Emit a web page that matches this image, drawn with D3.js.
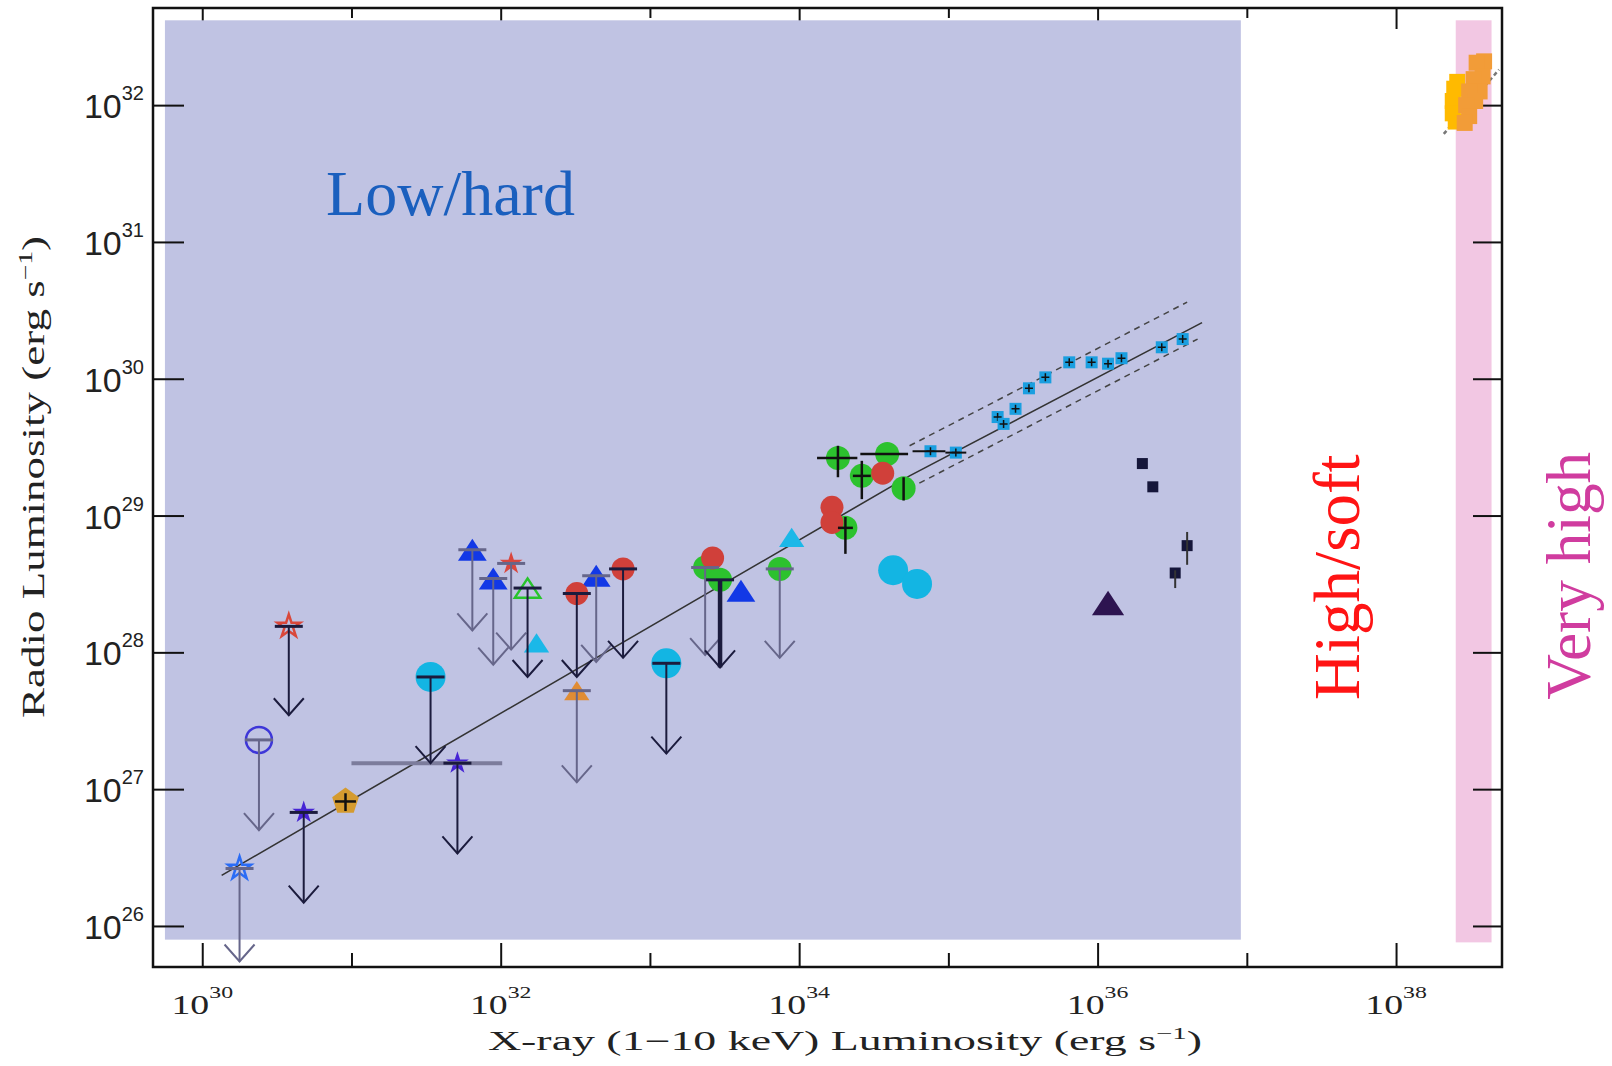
<!DOCTYPE html>
<html lang="en">

<head>
  <meta charset="UTF-8">
  <title>Radio vs X-ray luminosity</title>
  <style>
    body { margin: 0; background: #fff; }
    svg text { font-family: "Liberation Serif", "DejaVu Serif", serif; }
  </style>
</head>

<body>
  <svg id="svg" width="1612" height="1066"></svg>

  <script src="https://d3js.org/d3.v7.min.js"></script>
  <script>
    // every value is log10 of a luminosity in erg/s
    const xDomain = [29.67, 38.71]
    const yDomain = [25.70, 32.71]
    const xMajor = [30, 32, 34, 36, 38]
    const xMinor = [31, 33, 35, 37]
    const yMajor = [26, 27, 28, 29, 30, 31, 32]

    // accretion states: x and y extents
    const lowHard = { x: [29.75, 36.96], y: [25.90, 32.62] }
    const veryHigh = { x: [38.40, 38.64], y: [25.88, 32.62] }

    // correlation lines
    const fitLine = [[30.13, 26.37], [34.74, 29.29], [36.70, 30.41]]
    const fitUpper = [[34.74, 29.51], [36.60, 30.56]]
    const fitLower = [[34.74, 29.20], [36.67, 30.29]]
    const vhLine = [[38.32, 31.79], [38.69, 32.26]]

    // sources (lim = end of upper-limit arrow, xe/ye = error ranges)
    const openStarBlue = [{ x: 30.25, y: 26.42, lim: 25.74 }]
    const openCircleBlue = [{ x: 30.38, y: 27.36, lim: 26.70 }]
    const openStarRed = [{ x: 30.58, y: 28.19, lim: 27.54 }]
    const starPurple = [
      { x: 30.68, y: 26.83, lim: 26.17 },
      { x: 31.71, y: 27.19, lim: 26.53, xe: [31.00, 32.01] }
    ]
    const pentagonGold = [{ x: 30.96, y: 26.91, xe: [30.89, 31.03], ye: [26.84, 26.97] }]
    const circleCyan = [
      { x: 31.53, y: 27.82, lim: 27.19 },
      { x: 33.11, y: 27.92, lim: 27.26 },
      { x: 34.63, y: 28.60 },
      { x: 34.79, y: 28.50 }
    ]
    const triangleBlue = [
      { x: 31.81, y: 28.75, lim: 28.16 },
      { x: 31.95, y: 28.54, lim: 27.91 },
      { x: 32.64, y: 28.56, lim: 27.93 },
      { x: 33.61, y: 28.45 }
    ]
    const starRed = [{ x: 32.07, y: 28.65, lim: 28.02 }]
    const openTriangleGreen = [{ x: 32.18, y: 28.47, lim: 27.82 }]
    const triangleCyan = [{ x: 32.24, y: 28.07 }, { x: 33.95, y: 28.84 }]
    const triangleOrange = [{ x: 32.51, y: 27.72, lim: 27.05 }]
    const circleGreen = [
      { x: 33.37, y: 28.62, lim: 27.98 },
      { x: 33.87, y: 28.61, lim: 27.96 },
      { x: 34.31, y: 28.91, xe: [34.26, 34.36], ye: [28.72, 28.99] },
      { x: 34.26, y: 29.42, xe: [34.12, 34.39], ye: [29.28, 29.51] },
      { x: 34.42, y: 29.29, xe: [34.36, 34.48], ye: [29.12, 29.40] },
      { x: 34.59, y: 29.45, xe: [34.41, 34.73] },
      { x: 34.70, y: 29.20, ye: [29.11, 29.28] }
    ]
    const circleGreenDeep = [{ x: 33.47, y: 28.53, lim: 27.89 }]
    const circleRed = [
      { x: 32.51, y: 28.43, lim: 27.82 },
      { x: 32.82, y: 28.61, lim: 27.96 },
      { x: 33.42, y: 28.69 },
      { x: 34.22, y: 29.06 },
      { x: 34.22, y: 28.95 },
      { x: 34.56, y: 29.31 }
    ]
    const squareBlue = [
      { x: 34.88, y: 29.47, xe: [34.76, 34.98] },
      { x: 35.05, y: 29.46, xe: [34.98, 35.12] },
      { x: 35.33, y: 29.72 },
      { x: 35.37, y: 29.67 },
      { x: 35.45, y: 29.78 },
      { x: 35.54, y: 29.93 },
      { x: 35.65, y: 30.01 },
      { x: 35.81, y: 30.12 },
      { x: 35.96, y: 30.12 },
      { x: 36.07, y: 30.11 },
      { x: 36.16, y: 30.15 },
      { x: 36.43, y: 30.23 },
      { x: 36.57, y: 30.29 }
    ]
    const squareNavy = [
      { x: 36.30, y: 29.38 },
      { x: 36.37, y: 29.21 },
      { x: 36.60, y: 28.78, ye: [28.64, 28.88] },
      { x: 36.52, y: 28.58, ye: [28.47, 28.60] }
    ]
    const triangleDark = [{ x: 36.07, y: 28.36 }]
    const vhYellow = [
      { x: 38.41, y: 32.17 }, { x: 38.39, y: 32.12 }, { x: 38.38, y: 32.03 },
      { x: 38.38, y: 31.94 }, { x: 38.40, y: 31.88 }
    ]
    const vhOrange = [
      { x: 38.59, y: 32.32 }, { x: 38.54, y: 32.31 }, { x: 38.58, y: 32.21 },
      { x: 38.52, y: 32.19 }, { x: 38.56, y: 32.10 }, { x: 38.49, y: 32.10 },
      { x: 38.53, y: 32.03 }, { x: 38.47, y: 32.00 }, { x: 38.49, y: 31.92 },
      { x: 38.46, y: 31.87 }
    ]

    const dark = '#1b1b3d'
    const grey = '#66668a'

    const styles = {
      openStarBlue: { shape: 'star', r: 12, fill: 'none', stroke: '#2a6cf5', sw: 2.5, arrow: grey },
      openCircleBlue: { shape: 'circle', r: 13, fill: 'none', stroke: '#3d36d8', sw: 2.5, arrow: grey },
      openStarRed: { shape: 'star', r: 12, fill: 'none', stroke: '#d9473a', sw: 2.5, arrow: dark },
      starPurple: { shape: 'star', r: 12, fill: '#4624d4', arrow: dark, err: '#7c7c9c', ew: 4 },
      pentagonGold: { shape: 'pentagon', r: 14, fill: '#d59b2f', err: '#111' },
      circleCyan: { shape: 'circle', r: 15, fill: '#13b5e3', arrow: dark },
      triangleBlue: { shape: 'triangle', r: 12.5, fill: '#1238e6', arrow: grey },
      starRed: { shape: 'star', r: 12, fill: '#d9473f', arrow: grey },
      openTriangleGreen: { shape: 'triangle', r: 11, fill: 'none', stroke: '#28c42c', sw: 2.5, arrow: dark },
      triangleCyan: { shape: 'triangle', r: 11, fill: '#1bb8e8' },
      triangleOrange: { shape: 'triangle', r: 11, fill: '#e08c34', arrow: grey },
      circleGreen: { shape: 'circle', r: 12, fill: '#2cc22e', arrow: grey, err: '#111' },
      circleGreenDeep: { shape: 'circle', r: 12, fill: '#2cc22e', arrow: dark, aw: 4.5 },
      circleRed: { shape: 'circle', r: 11.5, fill: '#d0403a', arrow: dark },
      squareBlue: { shape: 'square', r: 6, fill: '#1a9fe0', inner: true, err: '#111', ew: 2 },
      squareNavy: { shape: 'square', r: 5.5, fill: '#15163a', err: '#333', ew: 2 },
      triangleDark: { shape: 'triangle', r: 14, fill: '#2d1450' },
      vhYellow: { shape: 'square', r: 8, fill: '#ffba00' },
      vhOrange: { shape: 'square', r: 8, fill: '#f29c38' }
    }

    const groups = [
      ['openStarBlue', openStarBlue], ['openCircleBlue', openCircleBlue],
      ['openStarRed', openStarRed], ['starPurple', starPurple],
      ['pentagonGold', pentagonGold], ['circleCyan', circleCyan],
      ['triangleBlue', triangleBlue], ['starRed', starRed],
      ['openTriangleGreen', openTriangleGreen], ['triangleCyan', triangleCyan],
      ['triangleOrange', triangleOrange], ['circleGreen', circleGreen],
      ['circleGreenDeep', circleGreenDeep], ['circleRed', circleRed],
      ['squareBlue', squareBlue], ['squareNavy', squareNavy],
      ['triangleDark', triangleDark]
    ]

    const p = v => Math.pow(10, v)
    const x = d3.scaleLog().domain(xDomain.map(p)).range([153, 1502])
    const y = d3.scaleLog().domain(yDomain.map(p)).range([967, 8])
    const X = v => x(p(v))
    const Y = v => y(p(v))

    const shapes = {
      circle: r => d3.symbol(d3.symbolCircle, Math.PI * r * r)(),
      star: r => d3.symbol(d3.symbolStar, r * r / 0.8908)(),
      triangle: r => `M0,${-0.875 * r}L${1.15 * r},${0.875 * r}L${-1.15 * r},${0.875 * r}Z`,
      square: r => `M${-r},${-r}H${r}V${r}H${-r}Z`,
      pentagon: r => d3.line()(d3.range(5).map(i => {
        const a = -Math.PI / 2 + i * 2 * Math.PI / 5
        return [r * Math.cos(a), r * Math.sin(a)]
      })) + 'Z'
    }

    const svg = d3.select('#svg')

    // top axis sits beneath the shaded states
    const axisStyle = g => g.call(s => s.select('.domain').remove())
      .selectAll('line').attr('stroke', '#111').attr('stroke-width', 2)
    svg.append('g').attr('transform', 'translate(0,8)')
      .call(d3.axisTop(x).tickValues(xMajor.map(p)).tickSize(-21).tickFormat('')).call(axisStyle)
    svg.append('g').attr('transform', 'translate(0,8)')
      .call(d3.axisTop(x).tickValues(xMinor.map(p)).tickSize(-10).tickFormat('')).call(axisStyle)

    // shaded states
    svg.append('rect')
      .attr('x', X(lowHard.x[0])).attr('width', X(lowHard.x[1]) - X(lowHard.x[0]))
      .attr('y', Y(lowHard.y[1])).attr('height', Y(lowHard.y[0]) - Y(lowHard.y[1]))
      .attr('fill', '#c0c3e3')
    svg.append('rect')
      .attr('x', X(veryHigh.x[0])).attr('width', X(veryHigh.x[1]) - X(veryHigh.x[0]))
      .attr('y', Y(veryHigh.y[1])).attr('height', Y(veryHigh.y[0]) - Y(veryHigh.y[1]))
      .attr('fill', '#f2c7e3')

    // remaining axes
    svg.append('g').attr('transform', 'translate(0,967)')
      .call(d3.axisBottom(x).tickValues(xMajor.map(p)).tickSize(-24).tickFormat('')).call(axisStyle)
    svg.append('g').attr('transform', 'translate(0,967)')
      .call(d3.axisBottom(x).tickValues(xMinor.map(p)).tickSize(-14).tickFormat('')).call(axisStyle)
    svg.append('g').attr('transform', 'translate(153,0)')
      .call(d3.axisLeft(y).tickValues(yMajor.map(p)).tickSize(-31).tickFormat('')).call(axisStyle)
    svg.append('g').attr('transform', 'translate(1502,0)')
      .call(d3.axisRight(y).tickValues(yMajor.map(p)).tickSize(-29).tickFormat('')).call(axisStyle)

    svg.append('rect')
      .attr('x', 153).attr('y', 8).attr('width', 1349).attr('height', 959)
      .attr('fill', 'none').attr('stroke', '#111').attr('stroke-width', 2.5)

    // tick labels
    xMajor.forEach(v => {
      const t = svg.append('text')
        .attr('transform', `translate(${X(v)},1014) scale(1.4,1)`)
        .attr('text-anchor', 'middle').attr('font-size', 27).attr('fill', '#222')
      t.append('tspan').text('10')
      t.append('tspan').attr('dy', -16).attr('font-size', 17).text(v)
    })
    yMajor.forEach(v => {
      const t = svg.append('text')
        .attr('x', 144).attr('y', Y(v) + 13)
        .attr('text-anchor', 'end').attr('fill', '#222')
        .style('font-family', '"Liberation Sans", Arial, sans-serif').attr('font-size', 34)
      t.append('tspan').text('10')
      t.append('tspan').attr('dy', -18).attr('font-size', 20).text(v)
    })

    // axis titles
    const xt = svg.append('text')
      .attr('x', 845).attr('y', 1050).attr('text-anchor', 'middle')
      .attr('font-size', 27).attr('fill', '#222')
      .attr('textLength', 714).attr('lengthAdjust', 'spacingAndGlyphs')
    xt.append('tspan').text('X-ray (1\u221210 keV) Luminosity (erg s')
    xt.append('tspan').attr('dy', -11).attr('font-size', 17).text('\u22121')
    xt.append('tspan').attr('dy', 11).text(')')

    const yt = svg.append('text')
      .attr('transform', 'translate(44,477) rotate(-90)').attr('text-anchor', 'middle')
      .attr('font-size', 31).attr('fill', '#222')
      .attr('textLength', 482).attr('lengthAdjust', 'spacingAndGlyphs')
    yt.append('tspan').text('Radio Luminosity (erg s')
    yt.append('tspan').attr('dy', -12).attr('font-size', 19).text('\u22121')
    yt.append('tspan').attr('dy', 12).text(')')

    // state labels
    svg.append('text').attr('x', X(30.83)).attr('y', Y(31.20))
      .attr('font-size', 64).attr('fill', '#1a5fbe').text('Low/hard')
    svg.append('text').attr('transform', `translate(${X(37.75)},${Y(28.55)}) rotate(-90)`)
      .attr('text-anchor', 'middle').attr('font-size', 65).attr('fill', '#ff1414').text('High/soft')
    svg.append('text').attr('transform', `translate(${X(39.30)},${Y(28.56)}) rotate(-90)`)
      .attr('text-anchor', 'middle').attr('font-size', 63).attr('fill', '#d03c9f')
      .attr('textLength', 248).attr('lengthAdjust', 'spacingAndGlyphs').text('Very high')

    // correlation lines
    const line = d3.line().x(d => X(d[0])).y(d => Y(d[1]))
    svg.append('path').attr('d', line(fitLine))
      .attr('fill', 'none').attr('stroke', '#333').attr('stroke-width', 1.6)
    ;[fitUpper, fitLower].forEach(l => svg.append('path').attr('d', line(l))
      .attr('fill', 'none').attr('stroke', '#444').attr('stroke-width', 1.5)
      .attr('stroke-dasharray', '6,5'))
    svg.append('path').attr('d', line(vhLine))
      .attr('fill', 'none').attr('stroke', '#777').attr('stroke-width', 2.5)
      .attr('stroke-dasharray', '4,3')

    // very high state cluster
    ;[['vhYellow', vhYellow], ['vhOrange', vhOrange]].forEach(([key, pts]) => {
      const s = styles[key]
      svg.append('g').selectAll('path').data(pts).enter().append('path')
        .attr('transform', d => `translate(${X(d.x)},${Y(d.y)})`)
        .attr('d', shapes[s.shape](s.r)).attr('fill', s.fill)
    })

    // markers
    const marks = svg.append('g')
    groups.forEach(([key, pts]) => {
      const s = styles[key]
      const g = marks.append('g').selectAll('g').data(pts).enter().append('g')
        .attr('transform', d => `translate(${X(d.x)},${Y(d.y)})`)
      g.append('path').attr('d', shapes[s.shape](s.r))
        .attr('fill', s.fill).attr('stroke', s.stroke || 'none').attr('stroke-width', s.sw || 0)
      if (s.inner) {
        g.append('path').attr('d', 'M-4,0H4M0,-4V4')
          .attr('stroke', '#111').attr('stroke-width', 1.5)
      }
    })

    // error bars and upper limits on top
    const over = svg.append('g').attr('fill', 'none')
    groups.forEach(([key, pts]) => {
      const s = styles[key]
      pts.forEach(d => {
        const cx = X(d.x), cy = Y(d.y)
        const ec = s.err || '#111', ew = s.ew || 2.5
        if (d.xe) over.append('line').attr('x1', X(d.xe[0])).attr('x2', X(d.xe[1]))
          .attr('y1', cy).attr('y2', cy).attr('stroke', ec).attr('stroke-width', ew)
        if (d.ye) over.append('line').attr('x1', cx).attr('x2', cx)
          .attr('y1', Y(d.ye[0])).attr('y2', Y(d.ye[1])).attr('stroke', ec).attr('stroke-width', ew)
        if (d.lim !== undefined) {
          const ey = Y(d.lim)
          const a = over.append('g').attr('stroke', s.arrow).attr('stroke-width', s.aw || 2)
          a.append('line').attr('x1', cx).attr('x2', cx).attr('y1', cy).attr('y2', ey)
          a.append('path').attr('d', `M${cx - 15},${ey - 17}L${cx},${ey}L${cx + 15},${ey - 17}`)
            .attr('stroke-width', 2)
          a.append('line').attr('x1', cx - 14).attr('x2', cx + 14).attr('y1', cy).attr('y2', cy)
            .attr('stroke-width', 3)
        }
      })
    })
  </script>
</body>

</html>
